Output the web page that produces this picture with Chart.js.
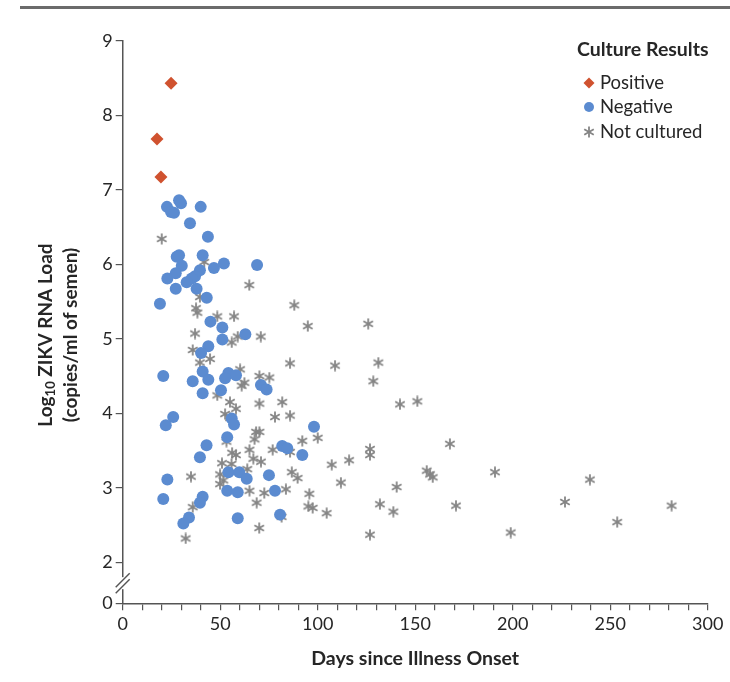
<!DOCTYPE html>
<html>
<head>
<meta charset="utf-8">
<script src="https://cdn.jsdelivr.net/npm/chart.js@4.4.1/dist/chart.umd.min.js"></script>
<style>
html,body{margin:0;padding:0;background:#fff;}
#wrap{width:730px;height:682px;position:relative;}
</style>
</head>
<body>
<div id="wrap"><canvas id="c" width="730" height="682"></canvas></div>
<script>
// ---- Data (days since onset, log10 copies/ml) ----
const seriesNames = ["Positive", "Negative", "Not cultured"];
const legendTitle = "Culture Results";
const xTitle = "Days since Illness Onset";
const yTitleLine1 = ["Log", "10", " ZIKV RNA Load"];
const yTitleLine2 = "(copies/ml of semen)";
const yTickValues = [1.45, 2, 3, 4, 5, 6, 7, 8, 9];
const yTickLabels = ["0", "2", "3", "4", "5", "6", "7", "8", "9"];
const xLabelEvery = 50;

const positiveX = [17.6, 24.8, 19.6];
const positiveY = [7.68, 8.43, 7.17];

const negativeX = [22.7,24.8,26.3,28.9,29.9,40.0,34.5,43.7,27.7,28.9,30.3,27.2,22.9,41.0,51.9,46.8,68.9,39.6,37.1,35.4,32.8,37.9,27.2,43.1,19.1,45.0,51.1,62.9,51.1,43.9,40.2,20.8,41.0,43.9,35.9,54.2,58.1,52.5,50.4,41.0,25.9,22.1,55.9,57.1,70.9,73.8,98.1,53.6,43.0,39.6,81.8,84.4,92.1,22.9,20.8,41.0,39.6,54.2,59.8,63.6,75.0,53.6,59.0,78.1,34.0,31.1,59.0,80.7];
const negativeY = [6.77,6.70,6.69,6.86,6.82,6.77,6.55,6.37,6.10,6.12,5.98,5.88,5.81,6.12,6.01,5.95,5.99,5.92,5.84,5.81,5.76,5.67,5.67,5.55,5.47,5.23,5.15,5.06,4.99,4.90,4.81,4.50,4.56,4.45,4.43,4.54,4.51,4.47,4.31,4.27,3.95,3.84,3.93,3.85,4.38,4.32,3.82,3.68,3.57,3.41,3.56,3.53,3.44,3.11,2.85,2.88,2.80,3.21,3.21,3.12,3.17,2.96,2.94,2.96,2.60,2.52,2.59,2.64];

const notCulturedX = [20.0,41.8,64.9,39.6,37.6,38.3,48.5,57.1,37.1,59.0,55.9,70.8,35.9,39.6,44.8,60.2,70.1,75.2,62.4,61.0,48.5,70.1,55.0,58.1,52.5,55.0,68.4,70.1,67.6,53.2,65.0,56.1,58.1,67.0,70.9,50.9,55.8,63.9,49.9,35.0,51.6,49.9,65.0,68.7,35.9,70.0,32.3,88.0,94.9,125.9,85.8,108.9,131.1,128.5,142.2,151.1,81.8,78.1,85.8,92.1,100.0,76.9,85.8,126.8,126.8,107.2,116.1,86.7,89.7,111.9,140.5,72.6,83.7,95.7,131.9,138.8,95.2,97.4,104.6,81.5,126.8,167.8,155.9,157.6,159.0,190.9,239.6,170.9,226.8,281.5,253.6,199.0];
const notCulturedY = [6.34,6.03,5.72,5.56,5.41,5.35,5.30,5.30,5.07,5.03,4.95,5.03,4.85,4.68,4.73,4.59,4.50,4.48,4.41,4.37,4.24,4.13,4.15,4.06,3.99,3.94,3.75,3.75,3.65,3.62,3.51,3.47,3.44,3.39,3.35,3.33,3.32,3.25,3.18,3.15,3.10,3.05,2.96,2.80,2.74,2.46,2.32,5.45,5.17,5.20,4.67,4.64,4.68,4.43,4.12,4.16,4.15,3.95,3.97,3.63,3.67,3.51,3.48,3.52,3.44,3.31,3.37,3.21,3.13,3.07,3.01,2.93,2.98,2.92,2.78,2.68,2.75,2.73,2.66,2.61,2.37,3.59,3.23,3.18,3.14,3.21,3.11,2.76,2.81,2.76,2.54,2.40];

const toPts = (xs, ys) => xs.map((x, i) => ({x: x, y: ys[i]}));

const FONT = "Lato, 'Open Sans', sans-serif";
const RED = "#d0522f";
const BLUE = "#5b8bd0";
const GRAY = "#858585";
const AXIS = "#555555";
const TXT = "#262626";

// asterisk point style (6 arms)
function makeAsterisk(size, color, lw) {
  const c = document.createElement('canvas');
  c.width = size; c.height = size;
  const g = c.getContext('2d');
  g.strokeStyle = color; g.lineWidth = lw; g.lineCap = 'butt';
  const r = size / 2 - 0.5, cx = size / 2, cy = size / 2;
  for (let k = 0; k < 3; k++) {
    const a = Math.PI / 2 + k * Math.PI / 3;
    g.beginPath();
    g.moveTo(cx + r * Math.cos(a), cy + r * Math.sin(a));
    g.lineTo(cx - r * Math.cos(a), cy - r * Math.sin(a));
    g.stroke();
  }
  return c;
}
const asterisk = makeAsterisk(12, GRAY, 1.8);

const deco = {
  id: 'deco',
  beforeDraw(chart) {
    const ctx = chart.ctx;
    ctx.save();
    ctx.fillStyle = '#fff';
    ctx.fillRect(0, 0, chart.width, chart.height);
    ctx.fillStyle = '#6b6b6b';
    ctx.fillRect(20, 6, 710, 3);
    ctx.restore();
  },
  afterDraw(chart) {
    const ctx = chart.ctx;
    const xs = chart.scales.x, ys = chart.scales.y;
    const ax = xs.getPixelForValue(0);
    // axis break
    const yb = ys.getPixelForValue(1.72);
    ctx.save();
    ctx.fillStyle = '#fff';
    ctx.fillRect(ax - 3, yb - 6, 6, 12);
    ctx.strokeStyle = AXIS; ctx.lineWidth = 1.4;
    for (const off of [-3, 3]) {
      ctx.beginPath();
      ctx.moveTo(ax - 7, yb + off + 7);
      ctx.lineTo(ax + 7, yb + off - 7);
      ctx.stroke();
    }
    // x title
    ctx.fillStyle = TXT;
    ctx.font = "bold 19.5px " + FONT;
    ctx.textAlign = 'center'; ctx.textBaseline = 'middle';
    ctx.fillText(xTitle, (chart.chartArea.left + chart.chartArea.right) / 2, 659);
    // y title (rotated, with subscript)
    const cy = 335;
    ctx.translate(46, cy);
    ctx.rotate(-Math.PI / 2);
    ctx.textAlign = 'left';
    const big = "bold 19px " + FONT, small = "bold 13px " + FONT;
    ctx.font = big; const w0 = ctx.measureText(yTitleLine1[0]).width;
    ctx.font = small; const w1 = ctx.measureText(yTitleLine1[1]).width;
    ctx.font = big; const w2 = ctx.measureText(yTitleLine1[2]).width;
    let x0 = -(w0 + w1 + w2) / 2;
    ctx.font = big; ctx.fillText(yTitleLine1[0], x0, 0);
    ctx.font = small; ctx.fillText(yTitleLine1[1], x0 + w0, 5);
    ctx.font = big; ctx.fillText(yTitleLine1[2], x0 + w0 + w1, 0);
    ctx.textAlign = 'center';
    ctx.fillText(yTitleLine2, 0, 25);
    ctx.restore();
    // legend
    ctx.save();
    ctx.fillStyle = TXT;
    ctx.font = "bold 19.5px " + FONT;
    ctx.textAlign = 'left'; ctx.textBaseline = 'middle';
    ctx.fillText(legendTitle, 577, 50);
    ctx.font = "18.5px " + FONT;
    const rows = [83, 107, 132];
    rows.forEach((ry, i) => {
      ctx.fillStyle = TXT;
      ctx.fillText(seriesNames[i], 600, ry);
      const mx = 589;
      if (i === 0) {
        ctx.fillStyle = RED; ctx.beginPath();
        ctx.moveTo(mx, ry - 5.5); ctx.lineTo(mx + 5.5, ry); ctx.lineTo(mx, ry + 5.5); ctx.lineTo(mx - 5.5, ry); ctx.closePath(); ctx.fill();
      } else if (i === 1) {
        ctx.fillStyle = BLUE; ctx.beginPath(); ctx.arc(mx, ry, 5, 0, Math.PI * 2); ctx.fill();
      } else {
        ctx.drawImage(asterisk, mx - 6, ry - 6);
      }
    });
    ctx.restore();
  }
};

new Chart(document.getElementById('c'), {
  type: 'scatter',
  data: {
    datasets: [
      {label: seriesNames[2], data: toPts(notCulturedX, notCulturedY), pointStyle: asterisk, pointRadius: 6, order: 3},
      {label: seriesNames[1], data: toPts(negativeX, negativeY), pointStyle: 'circle', pointRadius: 6, backgroundColor: BLUE, borderColor: BLUE, borderWidth: 0, order: 2},
      {label: seriesNames[0], data: toPts(positiveX, positiveY), pointStyle: 'rectRot', pointRadius: 6.5, backgroundColor: RED, borderColor: RED, borderWidth: 0, order: 1}
    ]
  },
  options: {
    responsive: false,
    animation: false,
    devicePixelRatio: 1,
    layout: {padding: {top: 40.7, right: 22.3, bottom: 0, left: 0}},
    plugins: {legend: {display: false}, tooltip: {enabled: false}, title: {display: false}},
    scales: {
      x: {
        type: 'linear', min: 0, max: 300,
        afterFit(s) { s.height = 78.7; },
        ticks: {stepSize: 10, autoSkip: false, maxRotation: 0, padding: 3, color: TXT,
          font: {family: FONT, size: 18},
          callback: v => (v % xLabelEvery === 0 ? String(v) : '')},
        grid: {drawOnChartArea: false, tickLength: 7, color: AXIS, lineWidth: 1.2},
        border: {display: true, color: AXIS, width: 1.5}
      },
      y: {
        type: 'linear', min: yTickValues[0], max: yTickValues[yTickValues.length - 1],
        afterFit(s) { s.width = 122.7; },
        afterBuildTicks(s) { s.ticks = yTickValues.map(v => ({value: v})); },
        ticks: {autoSkip: false, padding: 3, color: TXT, font: {family: FONT, size: 18},
          callback: (v, i) => yTickLabels[i]},
        grid: {drawOnChartArea: false, tickLength: 7, color: AXIS, lineWidth: 1.2},
        border: {display: true, color: AXIS, width: 1.5}
      }
    }
  },
  plugins: [deco]
});
</script>
</body>
</html>
